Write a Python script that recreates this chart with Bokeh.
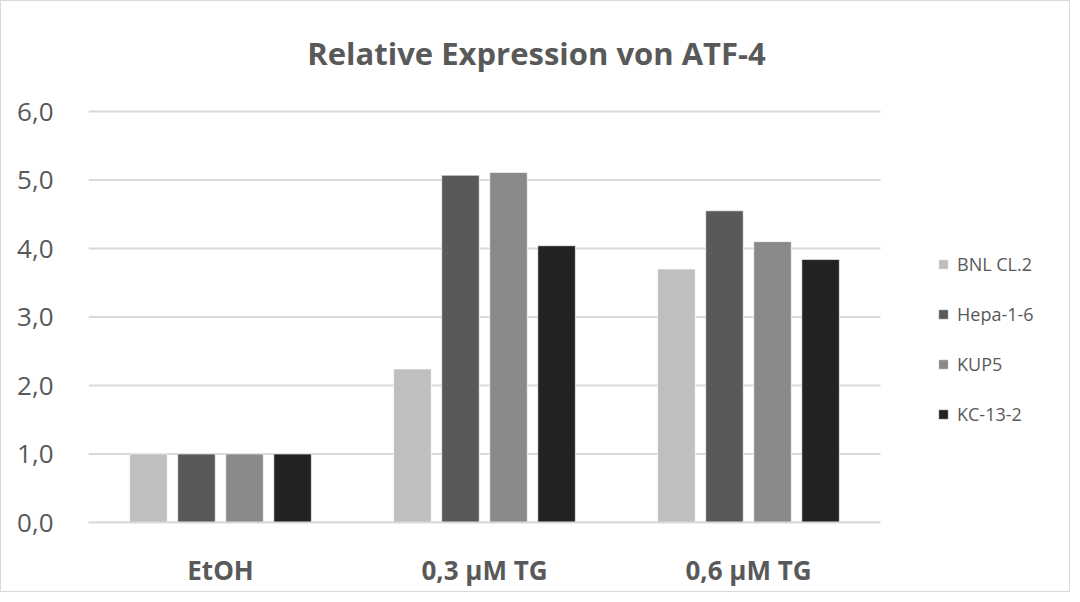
import numpy as np
from bokeh.plotting import figure
from bokeh.models import ColumnDataSource, Legend, LegendItem, FixedTicker, Label, Range1d
from bokeh.embed import file_html
from bokeh.resources import INLINE

categories = ["EtOH", "0,3 µM TG", "0,6 µM TG"]
series_names = ["BNL CL.2", "Hepa-1-6", "KUP5", "KC-13-2"]
bnl = [1.0, 2.24, 3.70]
hepa = [1.0, 5.07, 4.55]
kup5 = [1.0, 5.11, 4.10]
kc = [1.0, 4.04, 3.84]
y_ticks = [0, 1, 2, 3, 4, 5, 6]
y_tick_labels = ["0,0", "1,0", "2,0", "3,0", "4,0", "5,0", "6,0"]
title_text = "Relative Expression von ATF-4"

colors = ["#bfbfbf", "#595959", "#898989", "#232323"]
offsets = [-0.273, -0.091, 0.091, 0.273]
bar_width = 0.142
text_color = "#595959"
grid_color = "#d9d9d9"
FONT = "Open Sans"

n_cat = len(categories)
centers = np.arange(n_cat) + 0.5
y_max = max(y_ticks)

# layout (pixels)
W, H = 1070, 592
left, bottom = 87, 71
px_per_cat = 264.0
frame_w = W - left
frame_h = H - bottom
px_per_unit = 411.0 / y_max

p = figure(x_range=Range1d(0, frame_w / px_per_cat), y_range=Range1d(0, frame_h / px_per_unit),
           width=W, height=H, output_backend="svg", toolbar_location=None,
           min_border_left=left, min_border_right=0, min_border_top=0, min_border_bottom=bottom)
p.styles = {"border": "1px solid #d9d9d9"}
p.outline_line_color = None
p.background_fill_color = "white"
p.border_fill_color = "white"
p.xgrid.grid_line_color = None
p.ygrid.grid_line_color = None

# gridlines restricted to the category area
p.segment(x0=[0] * len(y_ticks), x1=[n_cat] * len(y_ticks), y0=y_ticks, y1=y_ticks,
          line_color=grid_color, line_width=2)

series = [bnl, hepa, kup5, kc]
renderers = []
for i, vals in enumerate(series):
    src = ColumnDataSource(dict(x=centers + offsets[i], top=vals))
    r = p.vbar(x="x", top="top", width=bar_width, source=src,
               fill_color=colors[i], line_color="white", line_alpha=0.6, line_width=1)
    renderers.append(r)

# axes
p.yaxis.ticker = FixedTicker(ticks=y_ticks)
p.yaxis.major_label_overrides = {t: l for t, l in zip(y_ticks, y_tick_labels)}
p.yaxis.axis_line_color = None
p.yaxis.major_tick_line_color = None
p.yaxis.minor_tick_line_color = None
p.yaxis.major_tick_out = 0
p.yaxis.major_tick_in = 0
p.yaxis.major_label_text_font = FONT
p.yaxis.major_label_text_font_size = "26px"
p.yaxis.major_label_text_color = text_color
p.yaxis.major_label_standoff = 35

p.xaxis.ticker = FixedTicker(ticks=list(centers))
p.xaxis.major_label_overrides = {float(c): l for c, l in zip(centers, categories)}
p.xaxis.bounds = (0, n_cat)
p.xaxis.axis_line_color = grid_color
p.xaxis.axis_line_width = 2
p.xaxis.major_tick_line_color = None
p.xaxis.minor_tick_line_color = None
p.xaxis.major_tick_out = 0
p.xaxis.major_tick_in = 0
p.xaxis.major_label_text_font = FONT
p.xaxis.major_label_text_font_style = "bold"
p.xaxis.major_label_text_font_size = "26px"
p.xaxis.major_label_text_color = text_color
p.xaxis.major_label_standoff = 29

title = Label(x=448, y=470, x_units="screen", y_units="screen", text=title_text,
              text_align="center", text_baseline="middle", text_font=FONT,
              text_font_style="bold", text_font_size="31px", text_color=text_color)
p.add_layout(title)

legend = Legend(items=[LegendItem(label=n, renderers=[r]) for n, r in zip(series_names, renderers)],
                location=(849, 96), orientation="vertical",
                glyph_width=12, glyph_height=12, label_height=24, spacing=26,
                label_standoff=8, padding=0, margin=0,
                border_line_color=None, background_fill_alpha=0,
                label_text_font=FONT, label_text_font_size="18px", label_text_color=text_color)
p.add_layout(legend)

open("out.html", "w").write(file_html(p, INLINE))
